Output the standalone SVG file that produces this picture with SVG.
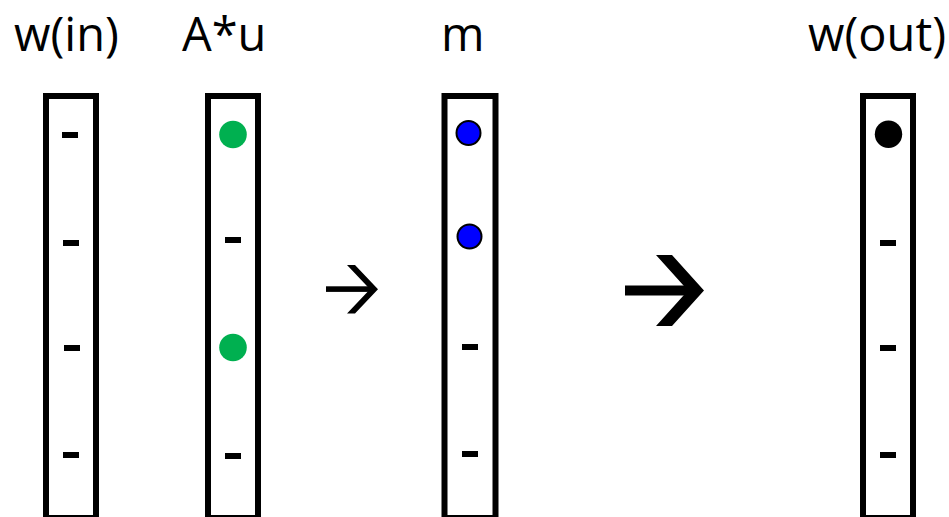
<svg xmlns="http://www.w3.org/2000/svg" width="949" height="517" viewBox="0 0 949 517">
<style>
.lbl{font-family:"Open Sans","Noto Sans","DejaVu Sans",sans-serif;font-size:47px;fill:#000}
.col{fill:#fff;stroke:#000;stroke-width:6}
.dash{fill:#000}
.g{fill:#00B050}
.b{fill:#0000FF;stroke:#000;stroke-width:2}
.k{fill:#000}
</style>
<rect width="949" height="517" fill="#fff"/>
<g id="w_in">
<text class="lbl" x="14" y="50.5">w(in)</text>
<rect class="col" x="46" y="96" width="50" height="422"/>
<rect class="dash" x="62" y="132" width="16" height="6"/>
<rect class="dash" x="63" y="240" width="16" height="6"/>
<rect class="dash" x="64" y="345" width="16" height="6"/>
<rect class="dash" x="63" y="452" width="16" height="6"/>
</g>
<g id="Au">
<text class="lbl" x="182" y="50.5">A*u</text>
<rect class="col" x="208" y="96" width="50" height="422"/>
<circle class="g" cx="233" cy="134.5" r="13.8"/>
<rect class="dash" x="225" y="237" width="16" height="6"/>
<circle class="g" cx="233" cy="347.5" r="13.8"/>
<rect class="dash" x="225" y="453" width="16" height="6"/>
</g>
<g id="m">
<text class="lbl" x="441" y="50.5">m</text>
<rect class="col" x="444.5" y="96" width="51" height="422"/>
<circle class="b" cx="468.5" cy="133" r="12"/>
<circle class="b" cx="469.5" cy="236.5" r="12"/>
<rect class="dash" x="462" y="344" width="16" height="6"/>
<rect class="dash" x="462" y="451" width="16" height="6"/>
</g>
<g id="w_out">
<text class="lbl" x="808" y="50.5">w(out)</text>
<rect class="col" x="863" y="96" width="50" height="422"/>
<circle class="k" cx="888.5" cy="134.3" r="13.7"/>
<rect class="dash" x="880" y="240" width="16" height="6"/>
<rect class="dash" x="880" y="345" width="16" height="6"/>
<rect class="dash" x="880" y="452" width="16" height="6"/>
</g>
<g id="connectors">
<rect x="326" y="286.3" width="46" height="5.6" fill="#000"/>
<polygon points="347,265 355,265 378,289.3 355,313.5 347,313.5 370,289.3" fill="#000"/>
<rect x="625" y="285.5" width="70" height="10" fill="#000"/>
<polygon points="656,255 672,255 704,290.5 672,326 656,326 688,290.5" fill="#000"/>
</g>
</svg>
